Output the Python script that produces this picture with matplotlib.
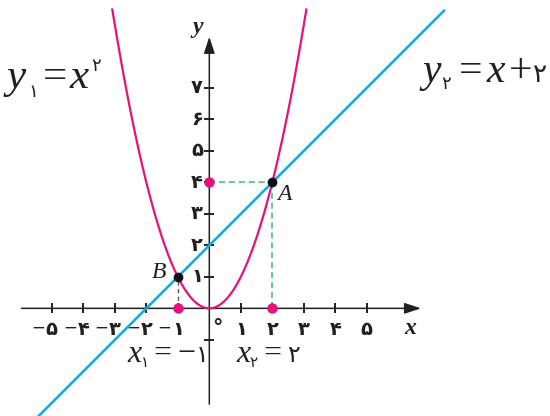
import matplotlib.pyplot as plt
import numpy as np

# y1 = x^2 and y2 = x + 2, meeting at A and B
parab_range = (-3.08, 3.08)
line_range = (-5.45, 7.45)
point_A = (2, 4)
point_B = (-1, 1)
marked_x = [-1, 2]      # roots shown on the x axis
marked_y = [4]          # value shown on the y axis

x_ticks = [-5, -4, -3, -2, -1, 1, 2, 3, 4, 5]
x_labels = ['۵', '۴', '۳', '۲', '۱', '۱', '۲', '۳', '۴', '۵']
y_ticks = [-1, 1, 2, 3, 4, 5, 6, 7]
y_labels = ['', '۱', '۲', '۳', '۴', '۵', '۶', '۷']

magenta = '#E5127D'
cyan = '#00AEEF'
green = '#3DB87A'
ink = '#231F20'

latin = ['Liberation Serif', 'DejaVu Sans']
digits = ['DejaVu Sans']

fig = plt.figure(figsize=(5.5, 4.16), dpi=100)
ax = fig.add_axes([0, 0, 1, 1])
ax.set_xlim(-6.645, 10.815)
ax.set_ylim(-3.417, 9.788)
ax.set_aspect('equal')
ax.axis('off')

def px(x, y):
    # reference pixel -> data coords
    return (x - 209.3) / 31.5, (308.3 - y) / 31.5

# axes with arrows
arrow = dict(arrowstyle='-|>,head_length=1.0,head_width=0.33', color=ink, lw=1.1, shrinkA=0, shrinkB=0)
ax.annotate('', xy=(6.72, 0), xytext=(-5.96, 0), arrowprops=arrow)
ax.annotate('', xy=(0, 8.62), xytext=(0, -3.04), arrowprops=arrow)

ax.plot(x_ticks, [0] * len(x_ticks), ls='none', marker='|', ms=7, mew=1.4, color=ink)
ax.plot([0] * len(y_ticks), y_ticks, ls='none', marker='_', ms=7, mew=1.4, color=ink)

for xv, lab in zip(x_ticks, x_labels):
    ax.text(xv, -0.66, lab, ha='center', va='center', fontsize=14, weight='bold', family=digits, color=ink)
    if xv < 0:
        ax.text(xv - 0.2, -0.6, '−', ha='right', va='center', fontsize=12, family=digits, color=ink)
for yv, lab in zip(y_ticks, y_labels):
    ax.text(-0.2, yv, lab, ha='right', va='center', fontsize=14, weight='bold', family=digits, color=ink)
ax.text(0.27, -0.62, '°', ha='center', va='center', fontsize=15, weight='bold', family=digits, color=ink)

ax.text(*px(410, 328), 'x', ha='center', va='center', fontsize=17, style='italic', weight='bold', family=latin, color=ink)
ax.text(*px(198, 27), 'y', ha='center', va='center', fontsize=17, style='italic', weight='bold', family=latin, color=ink)

# curves
xp = np.linspace(parab_range[0], parab_range[1], 300)
ax.plot(xp, xp ** 2, color=magenta, lw=1.6, zorder=3)
xl = np.array(line_range)
ax.plot(xl, xl + 2, color=cyan, lw=1.8, zorder=3)

# guides
ax.plot([0, point_A[0]], [point_A[1], point_A[1]], ls=(0, (4, 2.5)), color=green, lw=1.1, zorder=2)
ax.plot([point_A[0], point_A[0]], [0, point_A[1]], ls=(0, (4, 2.5)), color=green, lw=1.1, zorder=2)
ax.plot([point_B[0], point_B[0]], [0, point_B[1]], ls=(0, (3, 2.5)), color='#555555', lw=1.0, zorder=2)

ax.plot(marked_x, [0] * len(marked_x), ls='none', marker='o', ms=6.5, color=magenta, zorder=5)
ax.plot([0] * len(marked_y), marked_y, ls='none', marker='o', ms=6.5, color=magenta, zorder=5)
ax.plot([point_A[0], point_B[0]], [point_A[1], point_B[1]], ls='none', marker='o', ms=6, color='#111111', zorder=6)

ax.text(*px(284, 194), 'A', ha='center', va='center', fontsize=17, style='italic', family=latin, color=ink)
ax.text(*px(159, 272), 'B', ha='center', va='center', fontsize=17, style='italic', family=latin, color=ink)

def piece(x, y, s, size, italic=False, fam=latin):
    ax.text(*px(x, y), s, ha='left', va='baseline', fontsize=size, family=fam,
            style='italic' if italic else 'normal', color=ink)

# y1 = x^2
piece(7, 88, 'y', 31, True)
piece(28, 97, '۱', 13, fam=digits)
piece(43, 88, '=', 31)
piece(70, 88, 'x', 31, True)
piece(91, 71, '۲', 13, fam=digits)

# y2 = x + 2
piece(422, 82, 'y', 30, True)
piece(441, 89, '۲', 13, fam=digits)
piece(459, 82, '=', 30)
piece(486, 82, 'x', 30, True)
piece(509, 82, '+', 30)
piece(533, 82, '۲', 19, fam=digits)

# x1 = -1, x2 = 2
piece(127, 362, 'x', 23, True)
piece(141, 367, '۱', 11, fam=digits)
piece(153, 362, '=', 23)
piece(177, 362, '−', 23)
piece(196, 362, '۱', 17, fam=digits)

piece(236, 362, 'x', 23, True)
piece(249, 367, '۲', 11, fam=digits)
piece(263, 362, '=', 23)
piece(287, 362, '۲', 17, fam=digits)

fig.savefig('out.png', dpi=100)
